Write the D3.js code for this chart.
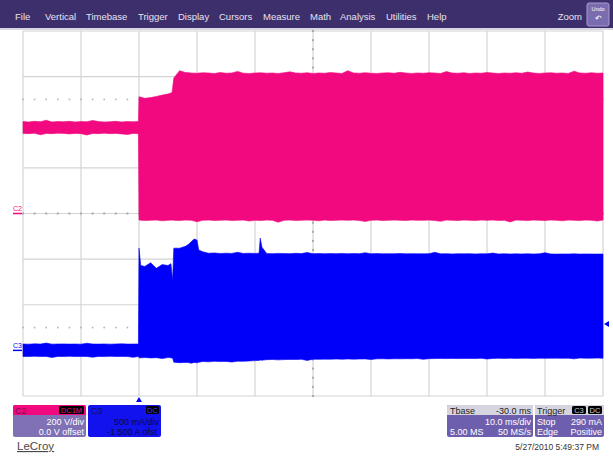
<!DOCTYPE html>
<html><head><meta charset="utf-8">
<script src="https://cdn.jsdelivr.net/npm/d3@7"></script>
<style>
body{margin:0;background:#fff;}
svg{display:block;font-family:"Liberation Sans",Arial,sans-serif;}
</style>
</head><body>
<svg id="c" width="613" height="456"></svg>
<script>
// ---------- data ----------
const menuItems = ["File","Vertical","Timebase","Trigger","Display","Cursors","Measure","Math","Analysis","Utilities","Help"];
const menuX = [15,45,86,138,178,219,263,310,340,386,427];
const timeTicks = [-20,-10,0,10,20,30,40,50,60,70,80];          // ms, 10 ms/div
const voltTicks = [-800,-600,-400,-200,0,200,400,600,800];       // V, 200 V/div

// C2 (voltage, V) envelope: time in ms, max / min
const c2Time = [-20,-19,-18,-17,-16,-15,-14,-13,-12,-11,-10,-9,-8,-7,-6,-5,-4,-3,-2,-1,-0.1,
  0,1,2,3,4,5,5.7,6,7,8,9,10,11,12,13,14,15,16,17,18,19,20,21,22,23,24,25,26,27,28,29,30,
  31,32,33,34,35,36,37,38,39,40,41,42,43,44,45,46,47,48,49,50,51,52,53,54,55,56,57,58,59,60,
  61,62,63,64,65,66,67,68,69,70,71,72,73,74,75,76,77,78,79,80];
const c2Max = [403,401,404,402,409,401,403,402,404,401,403,402,408,403,401,402,404,401,403,402,403,
  512,505,508,513,519,524,530,594,626,618,
  616,615,617,616,614,618,615,616,623,615,
  614,616,617,615,616,614,617,621,616,615,
  617,614,616,615,618,616,614,626,616,615,
  617,615,614,616,617,615,619,616,614,616,
  615,617,616,614,622,616,615,617,614,616,
  615,618,616,614,616,615,617,615,620,616,
  614,616,617,615,616,614,624,616,615,617,
  615,616];
const c2Min = [351,350,352,345,351,350,352,351,349,351,350,344,351,350,352,350,351,349,346,351,350,
  -29,-31,-30,-29,-32,-30,-29,
  -30,-31,-29,-30,-36,-30,-29,-31,-30,-29,
  -31,-30,-29,-33,-30,-31,-29,-30,-38,-30,
  -29,-31,-30,-29,-30,-32,-29,-31,-30,-29,
  -30,-29,-31,-35,-30,-29,-31,-30,-29,-30,
  -31,-29,-30,-30,-29,-31,-34,-29,-30,-31,
  -29,-30,-31,-29,-30,-29,-31,-30,-37,-29,
  -30,-31,-29,-30,-31,-29,-30,-32,-29,-30,
  -31,-29,-30,-33,-29];

// C3 (current, A) envelope
const c3Time = [-20,-19,-18,-17,-16,-15,-14,-13,-12,-11,-10,-9,-8,-7,-6,-5,-4,-3,-2,-1,-0.1,
  0,0.3,1,2,3,4,5,5.5,5.8,
  6,7,8,8.5,9,9.5,10,10.3,
  11,12,13,14,15,16,17,18,19,20,
  20.7,20.9,21.2,21.8,
  22,23,24,25,26,27,28,29,30,31,32,33,34,35,36,37,38,39,40,41,42,43,44,45,46,47,48,49,50,
  51,52,53,54,55,56,57,58,59,60,61,62,63,64,65,66,67,68,69,70,71,72,73,74,75,76,77,78,79,80];
const c3Max = [0.07,0.068,0.072,0.069,0.08,0.068,0.07,0.071,0.069,0.07,0.068,0.078,0.07,0.069,0.071,0.068,0.07,0.072,0.069,0.07,0.07,
  1.12,0.93,0.92,0.96,0.90,0.94,0.93,0.95,0.77,
  1.12,1.12,1.14,1.16,1.19,1.22,1.21,1.10,
  1.08,1.065,1.068,1.062,1.065,1.063,1.075,1.062,1.065,1.063,
  1.065,1.23,1.13,1.08,
  1.062,1.06,1.063,1.061,1.06,1.064,1.061,1.072,1.06,1.062,
  1.059,1.061,1.06,1.063,1.059,1.061,1.06,1.07,1.059,1.061,
  1.058,1.06,1.059,1.062,1.058,1.06,1.059,1.058,1.06,1.074,
  1.058,1.06,1.057,1.059,1.058,1.06,1.057,1.059,1.058,1.066,
  1.057,1.059,1.056,1.058,1.057,1.059,1.056,1.058,1.07,1.057,
  1.055,1.057,1.056,1.058,1.055,1.057,1.056,1.055,1.056];
const c3Min = [-0.066,-0.068,-0.065,-0.067,-0.066,-0.078,-0.066,-0.067,-0.065,-0.068,-0.066,-0.067,-0.075,-0.066,-0.068,-0.065,-0.067,-0.066,-0.068,-0.076,-0.067,
  -0.08,-0.082,-0.079,-0.083,-0.08,-0.09,-0.079,-0.082,-0.085,
  -0.13,-0.135,-0.132,-0.134,-0.14,-0.133,-0.136,-0.13,
  -0.122,-0.126,-0.12,-0.123,-0.121,-0.128,-0.118,-0.12,-0.116,-0.112,
  -0.11,-0.106,-0.108,-0.104,
  -0.102,-0.1,-0.104,-0.101,-0.099,-0.1,-0.098,-0.11,-0.097,-0.098,
  -0.096,-0.097,-0.095,-0.097,-0.094,-0.096,-0.095,-0.094,-0.1,-0.093,
  -0.092,-0.094,-0.092,-0.093,-0.091,-0.092,-0.09,-0.098,-0.091,-0.09,
  -0.089,-0.09,-0.088,-0.09,-0.089,-0.088,-0.09,-0.087,-0.095,-0.088,
  -0.087,-0.088,-0.086,-0.088,-0.087,-0.086,-0.088,-0.085,-0.087,-0.086,
  -0.085,-0.087,-0.085,-0.093,-0.084,-0.086,-0.085,-0.084,-0.086];

const c2Info = ["C2","DC1M","200 V/div","0.0 V offset"];
const c3Info = ["C3","DC","500 mA/div","-1.500 A ofst"];
const tbInfo = ["Tbase","-30.0 ms","10.0 ms/div","5.00 MS","50 MS/s"];
const trigInfo = ["Trigger","C3","DC","Stop","290 mA","Edge","Positive"];
const triggerTime = 0, triggerLevel = 0.29;
const dateText = "5/27/2010 5:49:37 PM";

// ---------- drawing ----------
const PINK = "#f2087f", BLUE = "#0000fa";
const svg = d3.select("#c");
const x = d3.scaleLinear().domain([-20,80]).range([23,603]);
const yV = d3.scaleLinear().domain([-800,800]).range([396,31]);
const yA = d3.scaleLinear().domain([-0.5,3.5]).range([396,31]);

// menu bar
svg.append("rect").attr("x",0).attr("y",0).attr("width",613).attr("height",28).attr("fill","#3d2e6c");
svg.append("rect").attr("x",0).attr("y",28).attr("width",613).attr("height",2).attr("fill","#d8d6e0");
svg.selectAll("text.menu").data(menuItems).join("text").attr("class","menu")
  .attr("x",(d,i)=>menuX[i]).attr("y",19.5).attr("fill","#e6e4f0").attr("font-size",9.5).text(d=>d);
svg.append("text").attr("x",582).attr("y",19.5).attr("text-anchor","end").attr("fill","#e6e4f0").attr("font-size",9.5).text("Zoom");
svg.append("rect").attr("x",587).attr("y",3).attr("width",22).attr("height",23).attr("rx",2)
  .attr("fill","#7a6cae").attr("stroke","#a79bd0");
svg.append("text").attr("x",598).attr("y",11).attr("text-anchor","middle").attr("fill","#fff").attr("font-size",5.5).text("Undo");
svg.append("text").attr("x",598).attr("y",21).attr("text-anchor","middle").attr("fill","#fff").attr("font-size",8).text("↶");

// grid
const g = svg.append("g");
g.selectAll("line.v").data(timeTicks).join("line").attr("class","v")
  .attr("x1",d=>x(d)).attr("x2",d=>x(d)).attr("y1",yV(800)).attr("y2",yV(-800))
  .attr("stroke","#d4d4d4").attr("stroke-width",1.2);
g.selectAll("line.h").data(voltTicks).join("line").attr("class","h")
  .attr("y1",d=>yV(d)).attr("y2",d=>yV(d)).attr("x1",x(-20)).attr("x2",x(80))
  .attr("stroke","#d4d4d4").attr("stroke-width",1.2);
// minor ticks on centre axes
const minorT = d3.range(-20,80.01,2), minorV = d3.range(-800,800.1,40);
g.selectAll("rect.mt").data(minorT).join("rect").attr("class","mt")
  .attr("x",d=>x(d)-1).attr("y",yV(0)-1).attr("width",2).attr("height",2).attr("fill","#aaaaaa");
g.selectAll("rect.mv").data(minorV).join("rect").attr("class","mv")
  .attr("x",x(30)-1).attr("y",d=>yV(d)-1).attr("width",2).attr("height",2).attr("fill","#aaaaaa");
// dotted reference lines
[500,-500].forEach(v=>{
  g.selectAll(null).data(minorT).join("rect")
    .attr("x",d=>x(d)-0.8).attr("y",yV(v)-0.8).attr("width",1.6).attr("height",1.6).attr("fill","#b4b4b4");
});

// traces
const idx2 = d3.range(c2Time.length), idx3 = d3.range(c3Time.length);
svg.append("path").datum(idx2)
  .attr("d", d3.area().x(i=>x(c2Time[i])).y0(i=>yV(c2Min[i])).y1(i=>yV(c2Max[i])))
  .attr("fill",PINK).attr("stroke",PINK).attr("stroke-width",0.6);
svg.append("path").datum(idx3)
  .attr("d", d3.area().x(i=>x(c3Time[i])).y0(i=>yA(c3Min[i])).y1(i=>yA(c3Max[i])))
  .attr("fill",BLUE).attr("stroke",BLUE).attr("stroke-width",0.6);

// channel ground markers
svg.append("text").attr("x",13).attr("y",211).attr("fill",PINK).attr("font-size",7).text("C2");
svg.append("line").attr("x1",13).attr("x2",22).attr("y1",yV(0)).attr("y2",yV(0)).attr("stroke",PINK).attr("stroke-width",1.5);
svg.append("text").attr("x",13).attr("y",yA(0)-2.5).attr("fill",BLUE).attr("font-size",7).text("C3");
svg.append("line").attr("x1",13).attr("x2",22).attr("y1",yA(0)).attr("y2",yA(0)).attr("stroke",BLUE).attr("stroke-width",1.5);

// trigger markers
const tx = x(triggerTime);
svg.append("path").attr("d",`M${tx-3},402 L${tx+3},402 L${tx},397 Z`).attr("fill",BLUE);
const ty = yA(triggerLevel);
svg.append("path").attr("d",`M604,${ty} L609,${ty-3} L609,${ty+3} Z`).attr("fill",BLUE);

// info boxes
function tag(xr, y, txt, w, col){
  svg.append("rect").attr("x",xr-w).attr("y",y).attr("width",w).attr("height",8).attr("rx",1.5).attr("fill","#000");
  svg.append("text").attr("x",xr-w/2).attr("y",y+7).attr("text-anchor","middle").attr("fill",col).attr("font-size",7.5).text(txt);
}
// C2
svg.append("rect").attr("x",13).attr("y",405).attr("width",73).attr("height",32).attr("rx",2).attr("fill","#8070b4");
svg.append("path").attr("d","M13,415 V407 Q13,405 15,405 H84 Q86,405 86,407 V415 Z").attr("fill",PINK);
svg.append("text").attr("x",15).attr("y",413.5).attr("fill","#7a1050").attr("font-size",9).text(c2Info[0]);
tag(84,406,c2Info[1],25,PINK);
svg.append("text").attr("x",84).attr("y",425).attr("text-anchor","end").attr("fill","#fff").attr("font-size",9).text(c2Info[2]);
svg.append("text").attr("x",84).attr("y",435).attr("text-anchor","end").attr("fill","#fff").attr("font-size",9).text(c2Info[3]);
// C3
svg.append("clipPath").attr("id","c3clip").append("rect").attr("x",88).attr("y",405).attr("width",73).attr("height",32);
const c3g = svg.append("g").attr("clip-path","url(#c3clip)");
c3g.append("rect").attr("x",88).attr("y",405).attr("width",73).attr("height",32).attr("rx",2).attr("fill","#1212ee");
c3g.append("text").attr("x",91).attr("y",413.5).attr("fill","#101060").attr("font-size",9).text(c3Info[0]);
tag(159,406,c3Info[1],13,"#3b3bff");
c3g.append("text").attr("x",159).attr("y",425).attr("text-anchor","end").attr("fill","#0a0a40").attr("font-size",9).text(c3Info[2]);
c3g.append("text").attr("x",107).attr("y",435).attr("fill","#0a0a40").attr("font-size",9).text(c3Info[3]);
// Tbase
svg.append("rect").attr("x",447).attr("y",405).attr("width",86).attr("height",32).attr("rx",2).attr("fill","#6e5fae");
svg.append("path").attr("d","M447,415 V407 Q447,405 449,405 H531 Q533,405 533,407 V415 Z").attr("fill","#d6d4de");
svg.append("text").attr("x",450).attr("y",413.5).attr("fill","#222").attr("font-size",9).text(tbInfo[0]);
svg.append("text").attr("x",531).attr("y",413.5).attr("text-anchor","end").attr("fill","#222").attr("font-size",9).text(tbInfo[1]);
svg.append("text").attr("x",531).attr("y",425).attr("text-anchor","end").attr("fill","#fff").attr("font-size",9).text(tbInfo[2]);
svg.append("text").attr("x",450).attr("y",435).attr("fill","#fff").attr("font-size",9).text(tbInfo[3]);
svg.append("text").attr("x",531).attr("y",435).attr("text-anchor","end").attr("fill","#fff").attr("font-size",9).text(tbInfo[4]);
// Trigger
svg.append("rect").attr("x",535).attr("y",405).attr("width",69).attr("height",32).attr("rx",2).attr("fill","#6e5fae");
svg.append("path").attr("d","M535,415 V407 Q535,405 537,405 H602 Q604,405 604,407 V415 Z").attr("fill","#d6d4de");
svg.append("text").attr("x",537).attr("y",413.5).attr("fill","#222").attr("font-size",9).text(trigInfo[0]);
tag(586,406,trigInfo[1],14,"#ccc");
tag(602,406,trigInfo[2],14,"#ccc");
svg.append("text").attr("x",537).attr("y",425).attr("fill","#fff").attr("font-size",9).text(trigInfo[3]);
svg.append("text").attr("x",602).attr("y",425).attr("text-anchor","end").attr("fill","#fff").attr("font-size",9).text(trigInfo[4]);
svg.append("text").attr("x",537).attr("y",435).attr("fill","#fff").attr("font-size",9).text(trigInfo[5]);
svg.append("text").attr("x",602).attr("y",435).attr("text-anchor","end").attr("fill","#fff").attr("font-size",9).text(trigInfo[6]);

// footer
svg.append("text").attr("x",17).attr("y",450).attr("fill","#4a4a4a").attr("font-size",11.5).attr("text-decoration","underline").text("LeCroy");
svg.append("text").attr("x",599).attr("y",450).attr("text-anchor","end").attr("fill","#333").attr("font-size",8.5).text(dateText);
</script>
</body></html>
